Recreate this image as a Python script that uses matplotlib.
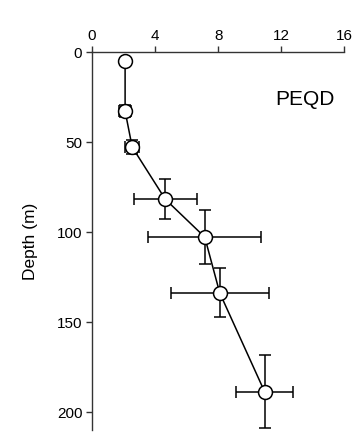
import matplotlib
matplotlib.use("Agg")
import matplotlib.pyplot as plt
from matplotlib.transforms import IdentityTransform

plt.rcParams['font.family'] = ['Liberation Sans', 'DejaVu Sans']

# PEQD concentration profile with depth
values = [2.1, 2.1, 2.55, 4.65, 7.15, 8.1, 10.95]
values_err = [0.2, 0.4, 0.45, 2.0, 3.58, 3.12, 1.8]
depth = [5, 33, 53, 82, 103, 134, 189]
depth_err = [1.5, 3.5, 3.8, 11, 15, 13.6, 20.3]
x_ticks = [0, 4, 8, 12, 16]
y_ticks = [0, 50, 100, 150, 200]
label = "PEQD"

fig = plt.figure(figsize=(3.61, 4.39), dpi=100)
ax = fig.add_axes([0.2548, 0.019, 0.699, 0.861])

ax.errorbar(values, depth, xerr=values_err, yerr=depth_err, fmt='none',
            ecolor='black', elinewidth=1.1, capsize=4, capthick=1.1, zorder=2)
ax.plot(values, depth, '-o', color='black', lw=1.1, markersize=10,
        markerfacecolor='white', markeredgecolor='black', markeredgewidth=1.1,
        zorder=3)

ax.set_xlim(0, 16)
ax.set_ylim(210, 0)
ax.set_xticks(x_ticks)
ax.set_yticks(y_ticks)

ax.xaxis.tick_top()
ax.xaxis.set_label_position('top')
ax.spines['bottom'].set_visible(False)
ax.spines['right'].set_visible(False)
for s in ('top', 'left'):
    ax.spines[s].set_linewidth(1.0)
    ax.spines[s].set_color('#333333')
ax.tick_params(axis='both', direction='out', length=4, width=1.0,
               color='#333333', labelsize=11, pad=3)

ax.set_ylabel("Depth (m)", fontsize=12.5)
ax.yaxis.set_label_coords(-0.215, 0.5)

txt = ax.text(0, 0, label, fontsize=15, ha='center', va='center')
txt.set_transform(IdentityTransform())
txt.set_position((304.5, 439 - 100))

fig.savefig("out.png", dpi=100)
